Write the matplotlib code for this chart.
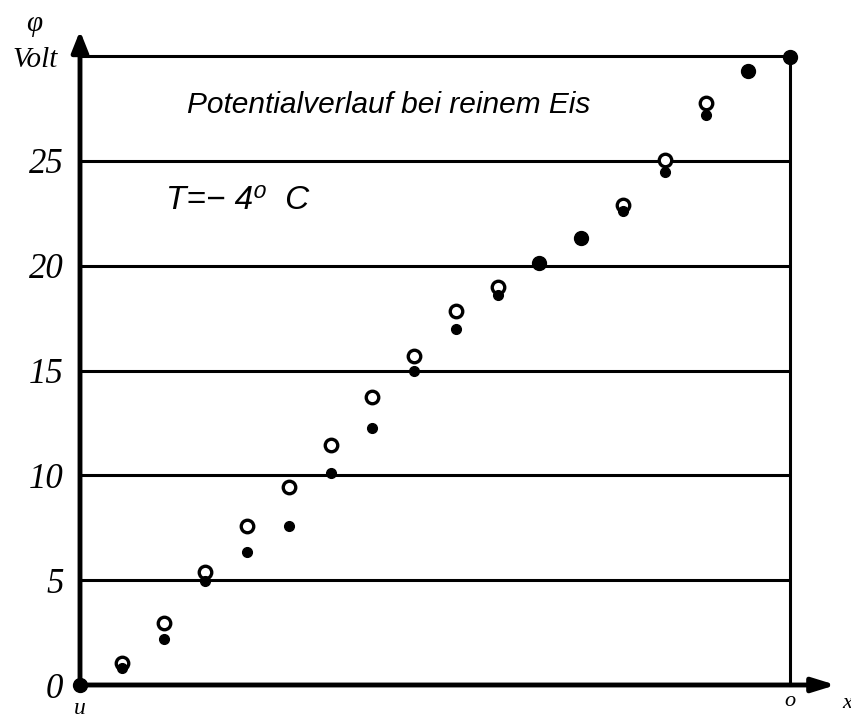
import numpy as np
import matplotlib.pyplot as plt

# Potentialverlauf bei reinem Eis, T = -4 C
# x positions are the measuring points between the electrodes u (0) and o (17)
open_x = [1, 2, 3, 4, 5, 6, 7, 8, 9, 10, 13, 14, 15]
open_y = [1.05, 2.95, 5.4, 7.6, 9.45, 11.45, 13.75, 15.7, 17.85, 19.0, 22.9, 25.05, 27.75]

filled_x = [1, 2, 3, 4, 5, 6, 7, 8, 9, 10, 13, 14, 15]
filled_y = [0.8, 2.2, 4.95, 6.35, 7.6, 10.1, 12.25, 15.0, 17.0, 18.6, 22.6, 24.45, 27.2]

big_x = [0, 11, 12, 16, 17]
big_y = [0.0, 20.15, 21.3, 29.3, 29.95]

grid_levels = [5, 10, 15, 20, 25, 30]
ytick_vals = [0, 5, 10, 15, 20, 25]
ytick_labels = ["0", "5", "10", "15", "20", "25"]

W, H = 851, 719
fig = plt.figure(figsize=(W / 100, H / 100), dpi=100)
ax = fig.add_axes([80 / W, (H - 685) / H, 710 / W, 629 / H])
ax.set_xlim(0, 17)
ax.set_ylim(0, 30)
for s in ax.spines.values():
    s.set_visible(False)

# horizontal lines and right border
for g in grid_levels:
    ax.plot([0, 17], [g, g], color="black", lw=2.2, solid_capstyle="butt", zorder=1, clip_on=False)
ax.plot([17, 17], [0, 30], color="black", lw=2.2, zorder=1, clip_on=False)

# axes with arrows
ax.annotate("", xy=(0, 31.2), xytext=(0, 0), annotation_clip=False,
            arrowprops=dict(arrowstyle="-|>,head_length=0.5,head_width=0.2",
                            lw=3.5, color="black", mutation_scale=25,
                            shrinkA=0, shrinkB=0))
ax.annotate("", xy=(18.1, 0), xytext=(0, 0), annotation_clip=False,
            arrowprops=dict(arrowstyle="-|>,head_length=0.55,head_width=0.17",
                            lw=3.5, color="black", mutation_scale=25,
                            shrinkA=0, shrinkB=0))

ax.plot(open_x, open_y, "o", ms=9, mfc="white", mec="black", mew=2.4, zorder=3, clip_on=False)
ax.plot(filled_x, filled_y, "o", ms=7, color="black", zorder=4, clip_on=False)
ax.plot(big_x, big_y, "o", ms=10, color="black", zorder=5, clip_on=False)

ax.set_xticks([])
ax.set_yticks(ytick_vals)
ax.set_yticklabels(ytick_labels, fontfamily="Liberation Serif", fontstyle="italic", fontsize=25)
ax.tick_params(axis="y", length=0, pad=12)

sans = ["Liberation Sans", "DejaVu Sans"]
ax.text(7.39, 27.67, "Potentialverlauf bei reinem Eis", ha="center", va="center",
        fontsize=21.5, fontstyle="italic", family=sans)
ax.text(2.05, 23.1, "T=− 4⁰  C", ha="left", va="center",
        fontsize=24, fontstyle="italic", family=sans)

serif = dict(fontfamily="Liberation Serif", fontstyle="italic")
fig.text(34 / W, 1 - 24 / H, "φ", ha="center", va="center", fontsize=21, **serif)
fig.text(35 / W, 1 - 60 / H, "Volt", ha="center", va="center", fontsize=21, **serif)
fig.text(80 / W, 1 - 708 / H, "u", ha="center", va="center", fontsize=17, **serif)
fig.text(790 / W, 1 - 701 / H, "o", ha="center", va="center", fontsize=16, **serif)
fig.text(842 / W, 1 - 703 / H, "x", ha="left", va="center", fontsize=16, **serif)

plt.savefig("out.png", dpi=100)
